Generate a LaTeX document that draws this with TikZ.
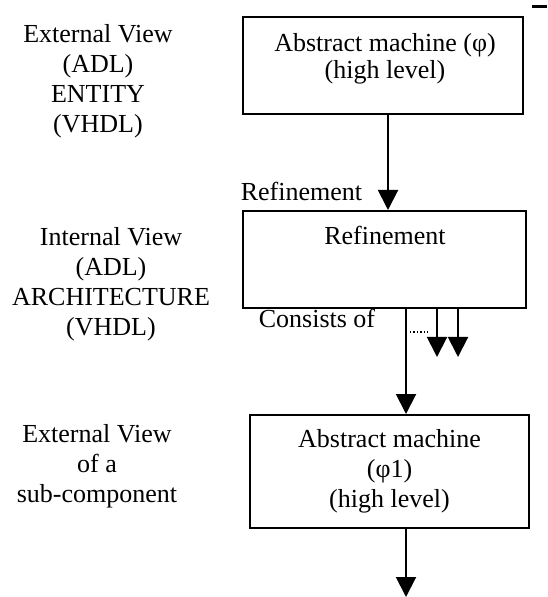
\documentclass[tikz,border=0pt]{standalone}
\usepackage{fontspec}
\setmainfont{Liberation Serif}
\usetikzlibrary{arrows.meta}

\tikzset{
  block/.style={draw, line width=1pt, align=center, inner sep=0pt},
  side/.style={align=center, inner sep=0pt},
  word/.style={anchor=base, inner sep=0pt},
  link/.style={line width=1pt, -{Triangle[width=10pt,length=10pt]}},
}

\begin{document}
\begin{tikzpicture}[x=0.5pt, y=-0.5pt, font=\fontsize{13}{15}\selectfont]
    \useasboundingbox (0,0) rectangle (547,597);
    % boxes
    \node [block, minimum width=140pt, minimum height=48.5pt] (top) at (383,65.5) {};
    \node [side, font=\fontsize{13}{13.5}\selectfont] (toptext) at (385,59) {Abstract machine (φ)\\(high level)};
    \node [block, minimum width=141.5pt, minimum height=48.5pt] (refine) at (384.5,259.5) {};
    \node [word] (reftext) at (385,245) {Refinement};
    \node [block, minimum width=139.5pt, minimum height=56.5pt] (sub) at (389.5,471.5) {Abstract machine\\(φ1)\\(high level)};
    % side texts
    \node [side] (ext) at (98,81) {External View\\(ADL)\\ENTITY\\(VHDL)};
    \node [side] (int) at (111,284) {Internal View\\(ADL)\\ARCHITECTURE\\(VHDL)};
    \node [side] (subext) at (97,466) {External View\\of a\\sub-component};
    \node [word] (reflabel) at (301.5,201) {Refinement};
    \node [word] (consists) at (317,328) {Consists of};
    % arrows
    \coordinate (p1) at (437,357);
    \coordinate (p2) at (458,357);
    \coordinate (out) at (406,597);
    \draw [link] (top.south) ++(5,0) coordinate (t1) -- (t1 |- refine.north);
    \draw [link] (out |- refine.south) -- (out |- sub.north);
    \draw [link] (p1 |- refine.south) -- (p1);
    \draw [link] (p2 |- refine.south) -- (p2);
    \draw [link] (out |- sub.south) -- (out);
    \draw [densely dotted, line width=0.7pt] (410,332) -- (430,332);
    \draw [line width=1.5pt] (532,7) -- (547,7);
\end{tikzpicture}
\end{document}
